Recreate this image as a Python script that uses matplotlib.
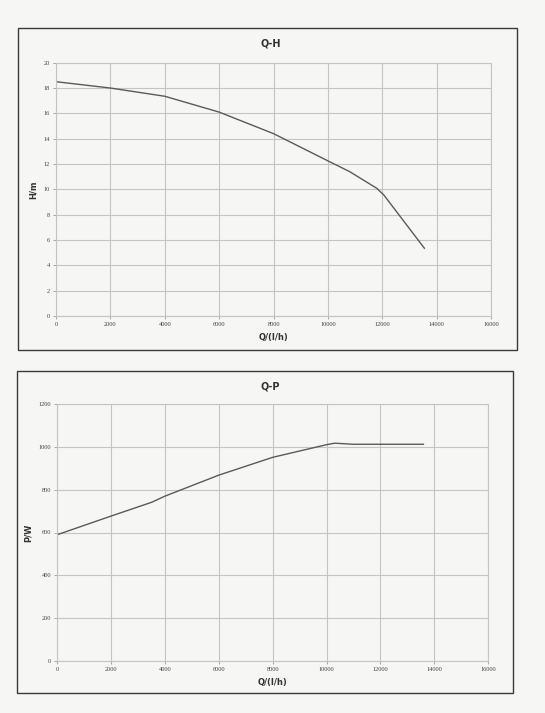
import matplotlib
matplotlib.use("Agg")
import matplotlib.pyplot as plt
from matplotlib.patches import Rectangle

# Q-H curve
qh_q = [0, 2000, 4000, 6000, 8000, 10000, 10800, 11800, 12060, 13550]
qh_h = [18.5, 18.0, 17.35, 16.1, 14.4, 12.25, 11.4, 10.08, 9.55, 5.35]

# Q-P curve
qp_q = [0, 2000, 3500, 4000, 6000, 8000, 10000, 10300, 11000, 13600]
qp_p = [590, 677, 741, 770, 868, 951, 1010, 1017, 1012, 1012]

x_ticks = [0, 2000, 4000, 6000, 8000, 10000, 12000, 14000, 16000]
h_ticks = [0, 2, 4, 6, 8, 10, 12, 14, 16, 18, 20]
p_ticks = [0, 200, 400, 600, 800, 1000, 1200]

W, H = 545, 713
bg = "#f6f6f4"
fig = plt.figure(figsize=(W / 100, H / 100), dpi=100, facecolor=bg)

def px_rect(x0, y0, x1, y1):
    return [x0 / W, 1 - y1 / H, (x1 - x0) / W, (y1 - y0) / H]

# panel frames
for (x0, y0, x1, y1) in [(18, 27.5, 517, 350), (16.5, 371, 513, 693)]:
    l, b, w, h = px_rect(x0, y0, x1, y1)
    fig.patches.append(Rectangle((l, b), w, h, transform=fig.transFigure,
                                 fill=False, edgecolor="#3a3a3a", linewidth=1.0))

grid_c = "#c4c4c4"
line_c = "#5a5a5a"

def style(ax, xs, ys, xlabel, ylabel, title, title_y):
    ax.set_facecolor(bg)
    ax.set_xlim(0, 16000)
    ax.set_xticks(xs)
    ax.set_yticks(ys)
    ax.set_ylim(ys[0], ys[-1])
    ax.grid(True, color=grid_c, linewidth=0.8)
    for s in ax.spines.values():
        s.set_color(grid_c)
        s.set_linewidth(0.8)
    ax.tick_params(axis="both", length=2.5, width=0.6, color="#999999",
                   labelsize=4.6, labelcolor="#444444", pad=2)
    for lab in ax.get_xticklabels() + ax.get_yticklabels():
        lab.set_family("Liberation Serif")
    ax.set_xlabel(xlabel, fontsize=6, fontweight="bold", color="#333333", labelpad=4)
    ax.set_ylabel(ylabel, fontsize=6, fontweight="bold", color="#333333", labelpad=4)
    fig.text(ax.get_position().x0 + ax.get_position().width / 2 - 0.005, 1 - title_y / H,
             title, ha="center", va="center", fontsize=7, fontweight="bold", color="#333333")

ax1 = fig.add_axes(px_rect(56, 62.7, 491, 316))
ax1.plot(qh_q, qh_h, color=line_c, linewidth=1.0)
style(ax1, x_ticks, h_ticks, "Q/(l/h)", "H/m", "Q-H", 43)

ax2 = fig.add_axes(px_rect(57.4, 404, 488, 661))
ax2.plot(qp_q, qp_p, color=line_c, linewidth=1.0)
style(ax2, x_ticks, p_ticks, "Q/(l/h)", "P/W", "Q-P", 386)

fig.savefig("out.png", dpi=100, facecolor=bg)
